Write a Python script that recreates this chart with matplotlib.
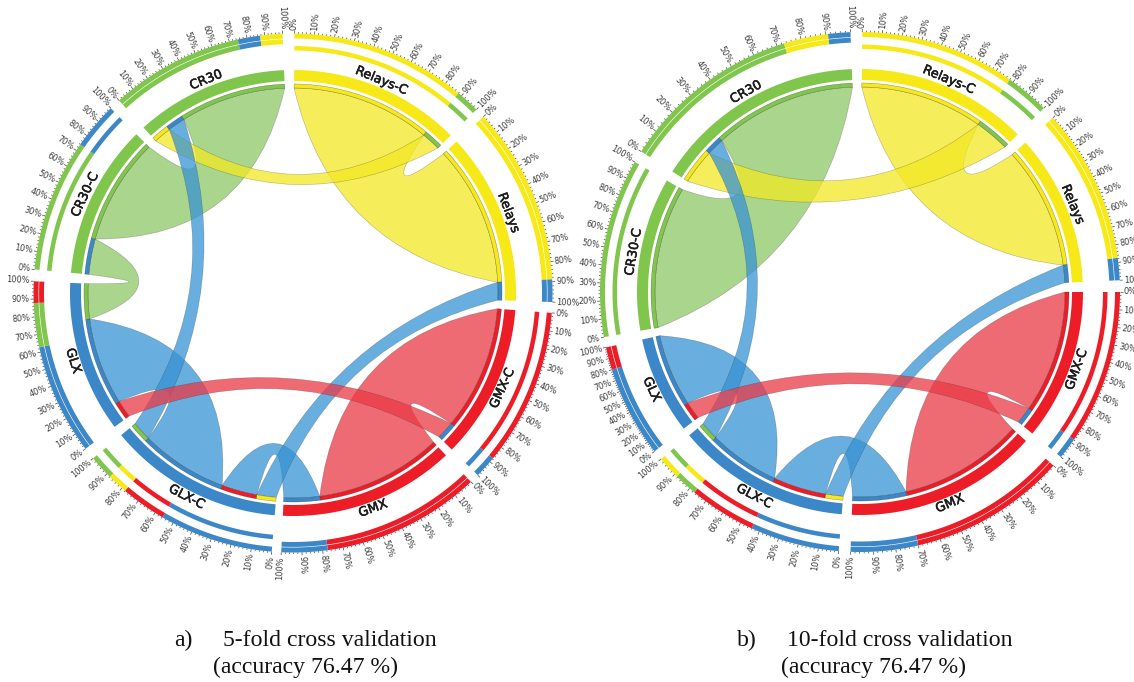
import numpy as np
import matplotlib
matplotlib.use("Agg")
import matplotlib.pyplot as plt
import matplotlib.patheffects as pe
from matplotlib.patches import PathPatch, Polygon
from matplotlib.path import Path
from matplotlib.collections import LineCollection

NAMES = ["Relays-C", "Relays", "GMX-C", "GMX", "GLX-C", "GLX", "CR30-C", "CR30"]
TICK_LABELS = [f"{v}%" for v in range(0, 101, 10)]

G, Y, B, R = "#80C54C", "#F7E817", "#3B87C7", "#EC1D27"
CHORD_COLORS = {G: "#8EC866", Y: "#F2E823", B: "#3693D4", R: "#EA3946"}

# sector spans, degrees clockwise from the top
SPANS_A = [(0.3, 45), (47.2, 92), (94.4, 134.6), (136.7, 182.6),
           (184.7, 230.4), (233.1, 272.6), (275.2, 315.4), (317.9, 357.7)]
SPANS_B = [(0.5, 45), (47.9, 87.4), (90, 129.4), (131.9, 182.1),
           (184.7, 230), (232.2, 257.7), (260, 300), (302.7, 357.9)]

# (upper fraction, colour) per sector, clockwise
OUTER_A = [[(.88, Y), (1, G)], [(.888, Y), (1, B)], [(.875, R), (1, B)], [(.775, R), (1, B)],
           [(.557, B), (.78, R), (.88, Y), (1, G)], [(.628, B), (.878, G), (1, R)],
           [(.74, G), (1, B)], [(.749, G), (.875, B), (1, Y)]]
SECOND_A = OUTER_A
INNER_A = [[(.88, Y), (1, G)], [(.888, Y), (1, B)], [(.875, R), (1, B)], [(.78, R), (1, B)],
           [(.12, Y), (.34, R), (.88, B), (1, G)], [(.125, R), (.75, B), (1, G)],
           [(.25, B), (1, G)], [(.125, Y), (.25, B), (1, G)]]
CHORDS_A = [(7, .25, 1, 6, .25, 1, G), (5, .75, 1, 6, 0, .25, G),
            (0, 0, .88, 1, 0, .888, Y), (0, .88, 1, 7, 0, .125, Y),
            (2, 0, .875, 3, 0, .78, R), (5, .125, .75, 4, .34, .88, B),
            (3, .78, 1, 4, .12, .34, B), (1, .888, 1, 4, 0, .12, B),
            (7, .125, .25, 4, .88, 1, B), (2, .875, 1, 5, 0, .125, R)]

OUTER_B = [[(.78, Y), (1, G)], [(.875, Y), (1, B)], [(.878, R), (1, B)], [(.70, R), (1, B)],
           [(.44, B), (.77, R), (.885, G), (1, Y)], [(.80, B), (1, R)],
           [(1, G)], [(.73, G), (.91, Y), (1, B)]]
SECOND_B = [[(.78, Y), (1, G)], [(.875, Y), (1, B)], [(.878, R), (1, B)], [(.70, R), (1, B)],
            [(.44, B), (.77, R), (.885, Y), (1, G)], [(.80, B), (1, R)],
            [(1, G)], [(.73, G), (.91, Y), (1, B)]]
INNER_B = [[(.78, Y), (1, G)], [(.875, Y), (1, B)], [(.878, R), (1, B)], [(.70, R), (1, B)],
           [(.11, Y), (.44, R), (.885, B), (1, G)], [(.196, R), (1, B)],
           [(1, G)], [(.18, Y), (.27, B), (1, G)]]
CHORDS_B = [(7, .27, 1, 6, 0, 1, G),
            (0, 0, .78, 1, 0, .875, Y), (0, .78, 1, 7, 0, .18, Y),
            (2, 0, .878, 3, 0, .70, R), (5, .196, 1, 4, .44, .885, B),
            (3, .70, 1, 4, .11, .44, B), (1, .875, 1, 4, 0, .11, B),
            (7, .18, .27, 4, .885, 1, B), (2, .878, 1, 5, 0, .196, R)]


def pt(c, r, t):
    t = np.radians(t)
    return np.column_stack([c[0] + r * np.sin(t), c[1] - r * np.cos(t)])


def band(ax, c, r0, r1, t0, t1, color, **kw):
    t = np.linspace(t0, t1, max(int(abs(t1 - t0) * 2), 3))
    xy = np.vstack([pt(c, r1, t), pt(c, r0, t[::-1])])
    ax.add_patch(Polygon(xy, closed=True, facecolor=color, **kw))


def frac_angle(span, f):
    return span[0] + (span[1] - span[0]) * f


def ring(ax, c, spans, segs, r0, r1, **kw):
    for span, parts in zip(spans, segs):
        lo = 0
        for hi, col in parts:
            band(ax, c, r0, r1, frac_angle(span, lo), frac_angle(span, hi), col, **kw)
            lo = hi


def ctrl_point(c, t0, t1, narrow):
    sep = abs((t1 - t0 + 180) % 360 - 180)
    rc = max(20, 126 - 0.8 * sep)
    # thin long ribbons bow a little less than the wide ones
    if narrow and sep > 60:
        rc += 12
    mid = t0 + ((t1 - t0 + 180) % 360 - 180) / 2
    return pt(c, rc, mid)[0]


def ribbon(ax, c, spans, chord, r=205):
    s1, f1, f2, s2, f3, f4, col = chord
    a = (frac_angle(spans[s1], f1), frac_angle(spans[s1], f2))
    b = (frac_angle(spans[s2], f3), frac_angle(spans[s2], f4))
    if (b[0] - a[0]) % 360 > 180:
        a, b = b, a
    narrow = (a[1] - a[0]) + (b[1] - b[0]) < 24
    ta = np.linspace(a[0], a[1], 30)
    tb = np.linspace(b[0], b[1], 30)
    verts = list(pt(c, r, ta))
    codes = [Path.MOVETO] + [Path.LINETO] * (len(ta) - 1)
    verts += [ctrl_point(c, a[1], b[0], narrow)] + list(pt(c, r, tb))
    codes += [Path.CURVE3, Path.CURVE3] + [Path.LINETO] * (len(tb) - 1)
    verts += [ctrl_point(c, b[1], a[0], narrow), pt(c, r, a[0])[0]]
    codes += [Path.CURVE3, Path.CURVE3]
    face = matplotlib.colors.to_rgba(CHORD_COLORS[col], 0.75)
    ax.add_patch(PathPatch(Path(verts, codes), facecolor=face,
                           edgecolor=(0.2, 0.2, 0.2, 0.35), linewidth=0.4, zorder=2))


def inner_main(i):
    return [Y, Y, R, R, B, B, G, G][i]


def draw_chord(ax, c, spans, outer, second, inner, chords, rtop):
    for ch in chords:
        ribbon(ax, c, spans, ch)

    # main sectors and the thin track under them
    for i, span in enumerate(spans):
        band(ax, c, 212, 223, span[0], span[1], inner_main(i), zorder=3)
    ring(ax, c, spans, inner, 205, 209, zorder=3, edgecolor=(0.1, 0.1, 0.1, 0.5), linewidth=0.3)

    # percentage rings, the -C sectors have theirs apart
    for i, span in enumerate(spans):
        ring(ax, c, [span], [outer[i]], rtop - 5, rtop, zorder=3)
        if i % 2 == 0:
            ring(ax, c, [span], [second[i]], rtop - 17, rtop - 12.5, zorder=3)
        else:
            ring(ax, c, [span], [second[i]], rtop - 10.5, rtop - 5.6, zorder=3)

    # ticks and labels
    segs = []
    for span in spans:
        for k in range(0, 101, 2):
            t = frac_angle(span, k / 100)
            ln = 3 if k % 10 == 0 else 1.5
            segs.append([pt(c, rtop, t)[0], pt(c, rtop + ln, t)[0]])
        for lab, k in zip(TICK_LABELS, range(0, 101, 10)):
            t = frac_angle(span, k / 100)
            x, y = pt(c, rtop + 4, t)[0]
            if t % 360 < 180:
                rot, ha = 90 - t, "left"
            else:
                rot, ha = 270 - t, "right"
            ax.text(x, y, lab, rotation=rot, ha=ha, va="center", rotation_mode="anchor",
                    fontsize=5.9, color="#3a3a3a", zorder=4)
    ax.add_collection(LineCollection(segs, colors="#444444", linewidths=0.5, zorder=3))

    # sector names
    for name, span in zip(NAMES, spans):
        t = (span[0] + span[1]) / 2
        x, y = pt(c, 230, t)[0]
        rot = -t + 180 if 90 < t < 270 else -t
        ax.text(x, y, name, rotation=rot, ha="center", va="center", rotation_mode="anchor",
                fontsize=9.2, color="#1c1c1c", zorder=4,
                path_effects=[pe.withStroke(linewidth=0.4, foreground="#1c1c1c")])


fig = plt.figure(figsize=(11.34, 6.82), dpi=100)
ax = fig.add_axes([0, 0, 1, 1])
ax.set_xlim(0, 1134)
ax.set_ylim(682, 0)
ax.axis("off")

draw_chord(ax, (293, 293), SPANS_A, OUTER_A, SECOND_A, INNER_A, CHORDS_A, 259.5)
draw_chord(ax, (860, 292), SPANS_B, OUTER_B, SECOND_B, INNER_B, CHORDS_B, 260)

serif = dict(family="Liberation Serif", fontsize=17.1, color="#111111", va="baseline")
ax.text(174, 646, "a)", **serif)
ax.text(223, 646, "5-fold cross validation", **serif)
ax.text(213, 673, "(accuracy 76.47 %)", **serif)
ax.text(737, 646, "b)", **serif)
ax.text(787, 646, "10-fold cross validation", **serif)
ax.text(781, 673, "(accuracy 76.47 %)", **serif)

fig.savefig("out.png", dpi=100)
